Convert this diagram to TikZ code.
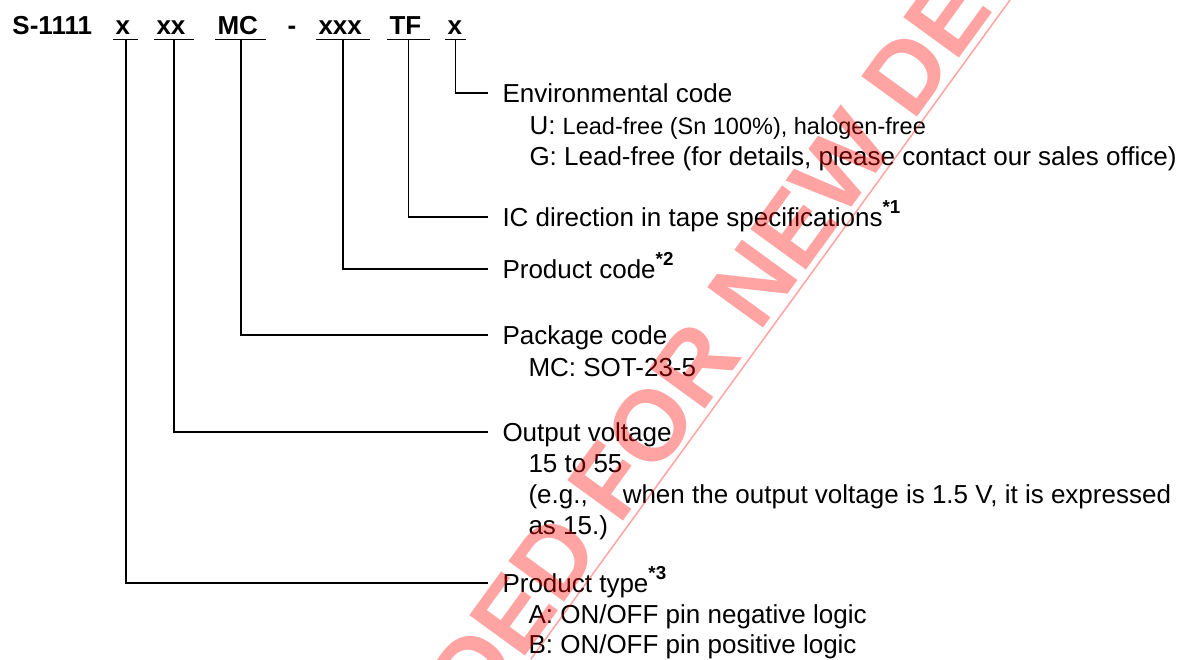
\documentclass[tikz,border=0pt]{standalone}
\usepackage{fontspec}
\setmainfont{Liberation Sans}
\usetikzlibrary{positioning}

\tikzset{
  code/.style={font=\fontsize{10.4}{12.4}\selectfont\bfseries, anchor=base west, inner xsep=0.8pt, inner ysep=0pt, text depth=1.6pt},
  head/.style={anchor=west, inner xsep=5.6pt, inner ysep=0pt, text height=7.4pt, text depth=0pt},
  sub/.style={anchor=base west, inner sep=0pt},
  lead/.style={line width=0.7pt},
  stamp/.style={red, opacity=0.36},
}
\newcommand{\fnmark}[1]{\raisebox{5pt}{\fontsize{7.5}{8}\selectfont\bfseries *#1}}

\begin{document}
\begin{tikzpicture}[x=0.4pt, y=-0.4pt, font=\fontsize{10.4}{12.4}\selectfont]
	\useasboundingbox (0,0) rectangle (1184,659);

	% model number
	\node[code, inner xsep=0pt] (model) at (12,35) {S-1111};
	\node[code] (cx)   at (113,35) {x\kern2.4pt};
	\node[code] (cxx)  at (154,35) {xx\kern2.4pt};
	\node[code] (cmc)  at (215,35) {MC\kern2.4pt};
	\node[code] (dash) at (285,35) {-};
	\node[code] (cxxx) at (316,35) {xxx\kern2.4pt};
	\node[code] (ctf)  at (387,35) {TF\kern2.4pt};
	\node[code] (cenv) at (445,35) {x\kern0.6pt};
	\foreach \c in {cx,cxx,cmc,cxxx,ctf,cenv}
		\draw [lead] (\c.south west) -- (\c.south east);

	% explanations
	\node[head] (env)   at (488,93)  {Environmental code};
	\node[sub]  (envU)  at (529,134) {U: {\fontsize{9.4}{11}\selectfont Lead-free (Sn 100\%), halogen-free}};
	\node[sub]  (envG)  at (529,165) {G: Lead-free (for details, please contact our sales office)};

	\node[head] (tape)  at (488,217) {IC direction in tape specifications\fnmark{1}};
	\node[head] (prod)  at (488,269) {Product code\fnmark{2}};

	\node[head] (pkg)   at (488,335) {Package code};
	\node[sub]  (pkgMC) at (528,376) {MC: SOT-23-5};

	\node[head] (volt)  at (488,432) {Output voltage};
	\node[sub]  (voltA) at (528,472) {15 to 55};
	\node[sub]  (voltB) at (528,503) {(e.g.,\hspace{14pt}when the output voltage is 1.5 V, it is expressed};
	\node[sub]  (voltC) at (528,534) {as 15.)};

	\node[head] (ptype)  at (488,583) {Product type\fnmark{3}};
	\node[sub]  (ptypeA) at (528,623) {A: ON/OFF pin negative logic};
	\node[sub]  (ptypeB) at (528,653) {B: ON/OFF pin positive logic};

	% leaders
	\draw [lead] (cenv.south) |- (env.west);
	\draw [lead] (ctf.south)  |- (tape.west);
	\draw [lead] (cxxx.south) |- (prod.west);
	\draw [lead] (cmc.south)  |- (pkg.west);
	\draw [lead] (cxx.south)  |- (volt.west);
	\draw [lead] (cx.south)   |- (ptype.west);

	% stamp
	\begin{scope}
		\clip (0,0) rectangle (1184,659);
		\coordinate (st1) at (531,659);
		\coordinate (st2) at (1010,0);
		\draw [stamp, line width=0.6pt] (st1) -- (st2);
		\node [stamp, anchor=base, rotate=54, inner sep=0pt, font=\fontsize{40}{42}\selectfont\bfseries]
			(nrnd) at (564,603) {NOT RECOMMENDED FOR NEW DESIGN};
	\end{scope}
\end{tikzpicture}
\end{document}
